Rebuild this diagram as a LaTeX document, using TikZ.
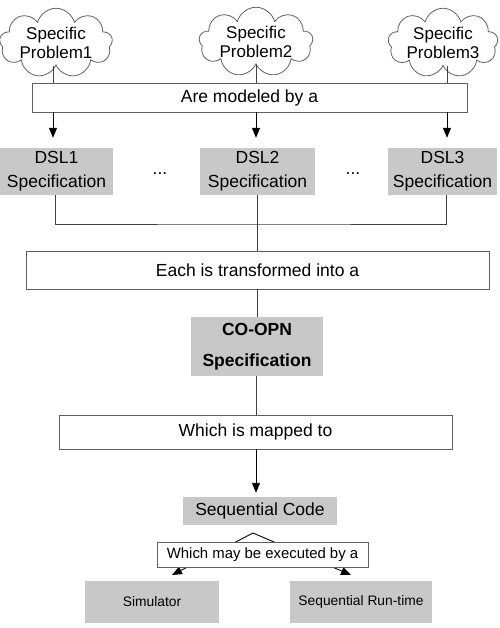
\documentclass[tikz,border=0pt]{standalone}
\usepackage{fontspec}
\setmainfont{Liberation Sans}
\usetikzlibrary{shapes.symbols,arrows.meta,calc}
\definecolor{boxgray}{RGB}{200,200,200}
\definecolor{edgegray}{RGB}{95,95,95}
\tikzset{
  cloudnode/.style={cloud, cloud puffs=9, cloud ignores aspect, draw=edgegray, line width=0.8pt, inner sep=0pt, align=center, font=\fontsize{17}{19.5}\selectfont},
  framebox/.style={draw=edgegray, line width=0.8pt, fill=white, inner sep=0pt, align=center, font=\fontsize{17.5}{20}\selectfont},
  graybox/.style={fill=boxgray, inner sep=0pt, align=center, font=\fontsize{17.5}{24}\selectfont},
  link/.style={draw=black!75, line width=0.8pt},
  arr/.style={draw=black, line width=0.9pt, -{Triangle[length=10pt,width=8pt]}},
}
\begin{document}
\begin{tikzpicture}[x=1pt,y=-1pt]
\useasboundingbox (0,0) rectangle (499,628);
% clouds
\node[cloudnode, minimum width=113pt, minimum height=56pt] (c1) at (56,43) {Specific\\Problem1};
\node[cloudnode, minimum width=114pt, minimum height=56pt] (c2) at (256,42) {Specific\\Problem2};
\node[cloudnode, minimum width=110pt, minimum height=57pt] (c3) at (443,43) {Specific\\Problem3};
% modeled box
\node[framebox, minimum width=435pt, minimum height=29pt] (mod) at (249.5,97.5) {Are modeled by a};
% DSL boxes
\node[graybox, minimum width=113pt, minimum height=47pt] (d1) at (56.5,171.5) {DSL1\\Specification};
\node[graybox, minimum width=115pt, minimum height=47pt] (d2) at (257.5,171.5) {DSL2\\Specification};
\node[graybox, minimum width=109pt, minimum height=47pt] (d3) at (442.5,171.5) {DSL3\\Specification};
\node[font=\fontsize{17.5}{20}\selectfont] (dots1) at (160,174) {...};
\node[font=\fontsize{17.5}{20}\selectfont] (dots2) at (353,174) {...};
% each box
\node[framebox, minimum width=463pt, minimum height=38pt] (each) at (257.5,270) {Each is transformed into a};
% co-opn
\node[graybox, minimum width=132pt, minimum height=59pt, font=\bfseries\fontsize{17.5}{31}\selectfont] (coopn) at (257,346.5) {CO-OPN\\Specification};
% mapped
\node[framebox, minimum width=393pt, minimum height=34pt] (map) at (255.5,432) {Which is mapped to};
% sequential code
\node[graybox, minimum width=154pt, minimum height=28pt] (seq) at (260,511) {Sequential Code};
% sim and runtime
\node[graybox, minimum width=134pt, minimum height=42pt, font=\fontsize{13.8}{16}\selectfont] (sim) at (152,602) {Simulator};
\node[graybox, minimum width=142pt, minimum height=42pt, font=\fontsize{13.8}{16}\selectfont] (run) at (361,602) {Sequential Run-time};
% connectors top
\draw[link] (c1.south -| 53,0) -- (mod.north -| 53,0);
\draw[link] (c2.south -| 256,0) -- (mod.north -| 256,0);
\draw[link] (c3.south -| 447,0) -- (mod.north -| 447,0);
\draw[arr, shorten >=10pt] (mod.south -| 53,0) -- (d1.north -| 53,0);
\draw[arr, shorten >=10pt] (mod.south -| 256,0) -- (d2.north -| 256,0);
\draw[arr, shorten >=10pt] (mod.south -| 447,0) -- (d3.north -| 447,0);
% join
\coordinate (j) at (257,224);
\draw[link] (d1.south -| 55,0) |- (j) -| (d3.south -| 446,0);
\draw[link] (d2.south) -- (each.north -| d2.south);
\draw[link] (each.south -| coopn.north) -- (coopn.north);
\draw[link] (coopn.south -| 256,0) -- (map.north -| 256,0);
\draw[arr, shorten >=4pt] (map.south -| 256,0) -- (seq.north -| 256,0);
% branches
\coordinate (sp) at (253,533);
\coordinate (t1) at (172,575);
\coordinate (t2) at (351,575);
\draw[arr] (sp) -- (t1);
\draw[arr] (sp) -- (t2);
\node[framebox, minimum width=211pt, minimum height=25pt, font=\fontsize{14.9}{17}\selectfont] (exec) at (262.5,554.5) {Which may be executed by a};
\end{tikzpicture}
\end{document}
